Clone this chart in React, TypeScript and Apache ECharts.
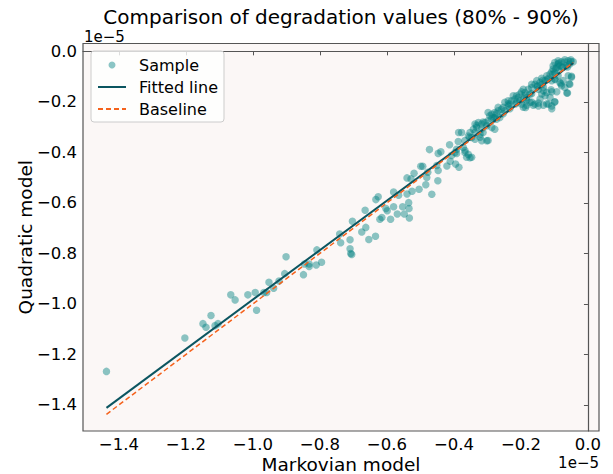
import React, { useEffect, useRef } from "react";
import * as echarts from "echarts";

// Values are in units of 1e-5 (matplotlib offset text "1e−5")
const TITLE = "Comparison of degradation values (80% - 90%)";
const X_NAME = "Markovian model";
const Y_NAME = "Quadratic model";
const OFFSET_TEXT = "1e\u22125";
const X_TICKS = [-1.4, -1.2, -1.0, -0.8, -0.6, -0.4, -0.2, 0.0];
const Y_TICKS = [-1.4, -1.2, -1.0, -0.8, -0.6, -0.4, -0.2, 0.0];
const X_RANGE = [-1.507, 0.033];
const Y_RANGE = [-1.503, 0.031];
const FIT_SLOPE = 0.98;
const FIT_INTERCEPT = -0.003;

const markovian = [
  -1.437, -1.203, -1.149, -1.14, -1.125, -1.113, -1.104, -1.066, -1.053, -1.015,
  -0.993, -0.989, -0.967, -0.959, -0.952, -0.938, -0.922, -0.905, -0.901, -0.849,
  -0.846, -0.832, -0.832, -0.811, -0.809, -0.795, -0.741, -0.738, -0.71, -0.71,
  -0.708, -0.705, -0.703, -0.675, -0.665, -0.663, -0.654, -0.634, -0.633, -0.626,
  -0.621, -0.615, -0.603, -0.599, -0.589, -0.58, -0.58, -0.569, -0.565, -0.553,
  -0.548, -0.54, -0.54, -0.535, -0.534, -0.533, -0.528, -0.525, -0.519, -0.504,
  -0.499, -0.493, -0.484, -0.481, -0.478, -0.473, -0.466, -0.451, -0.448, -0.447,
  -0.439, -0.447, -0.421, -0.413, -0.411, -0.407, -0.395, -0.392, -0.387, -0.386,
  -0.385,
  -0.099, -0.089, -0.079, -0.069, -0.059, -0.051, -0.044, -0.084, -0.093, -0.104,
  -0.108, -0.099, -0.087, -0.074, -0.064, -0.054, -0.059, -0.049, -0.054, -0.061,
  -0.079, -0.084, -0.074, -0.069, -0.089, -0.099, -0.108, -0.118, -0.128, -0.136,
  -0.143, -0.15, -0.158, -0.148, -0.133, -0.123, -0.108, -0.093, -0.113, -0.128,
  -0.138, -0.143, -0.099, -0.108, -0.118, -0.133, -0.148, -0.158, -0.163, -0.173,
  -0.183, -0.186, -0.193, -0.198, -0.203, -0.208, -0.188, -0.178, -0.168, -0.173,
  -0.183, -0.193, -0.203, -0.213, -0.218, -0.228, -0.233, -0.238, -0.248, -0.253,
  -0.258, -0.268, -0.278, -0.287, -0.293, -0.283, -0.273, -0.263, -0.298, -0.307,
  -0.302, -0.287, -0.278, -0.317, -0.327, -0.337, -0.332, -0.342, -0.352, -0.357,
  -0.347, -0.337, -0.322, -0.313, -0.317, -0.302, -0.377, -0.372, -0.367, -0.357,
  -0.352, -0.392, -0.397,
  -0.298, -0.268, -0.238, -0.223, -0.198, -0.168, -0.153, -0.138, -0.123, -0.113,
  -0.104, -0.089, -0.278, -0.248, -0.213,
  -0.087, -0.069, -0.051, -0.077, -0.096, -0.061, -0.049, -0.056, -0.063, -0.081,
  -0.098, -0.105, -0.121, -0.135, -0.151, -0.133, -0.11, -0.099, -0.108, -0.123,
  -0.148, -0.168, -0.193, -0.183, -0.168, -0.188, -0.215, -0.238, -0.233, -0.253,
  -0.273, -0.288, -0.313, -0.332, -0.317, -0.337, -0.322, -0.298, -0.353, -0.367,
  -0.362, -0.347, -0.367,
];

const quadratic = [
  -1.267, -1.135, -1.078, -1.092, -1.046, -1.086, -1.078, -0.964, -0.984, -0.964,
  -0.955, -1.025, -0.955, -0.955, -0.914, -0.938, -0.909, -0.88, -0.813, -0.884,
  -0.842, -0.842, -0.852, -0.846, -0.786, -0.835, -0.723, -0.758, -0.746, -0.782,
  -0.8, -0.804, -0.673, -0.715, -0.629, -0.697, -0.745, -0.732, -0.587, -0.576,
  -0.665, -0.658, -0.622, -0.631, -0.665, -0.557, -0.615, -0.644, -0.57, -0.615,
  -0.644, -0.501, -0.565, -0.599, -0.622, -0.66, -0.505, -0.554, -0.483, -0.546,
  -0.455, -0.455, -0.528, -0.499, -0.479, -0.389, -0.566, -0.452, -0.512, -0.404,
  -0.398, -0.472, -0.454, -0.37, -0.435, -0.412, -0.446, -0.404, -0.357, -0.321,
  -0.459,
  -0.044, -0.037, -0.041, -0.033, -0.037, -0.033, -0.041, -0.057, -0.063, -0.07,
  -0.081, -0.086, -0.077, -0.063, -0.057, -0.05, -0.097, -0.103, -0.13, -0.165,
  -0.136, -0.123, -0.116, -0.143, -0.097, -0.11, -0.116, -0.107, -0.116, -0.13,
  -0.123, -0.136, -0.13, -0.15, -0.156, -0.163, -0.16, -0.16, -0.183, -0.176,
  -0.169, -0.189, -0.2, -0.216, -0.209, -0.213, -0.216, -0.209, -0.213, -0.202,
  -0.213, -0.222, -0.189, -0.209, -0.196, -0.183, -0.163, -0.15, -0.143, -0.169,
  -0.183, -0.15, -0.169, -0.176, -0.189, -0.196, -0.209, -0.216, -0.202, -0.222,
  -0.229, -0.235, -0.242, -0.249, -0.255, -0.262, -0.269, -0.262, -0.275, -0.282,
  -0.295, -0.302, -0.308, -0.288, -0.282, -0.288, -0.302, -0.308, -0.321, -0.335,
  -0.341, -0.348, -0.328, -0.321, -0.354, -0.354, -0.321, -0.381, -0.401, -0.408,
  -0.421, -0.388, -0.401,
  -0.242, -0.222, -0.196, -0.176, -0.16, -0.13, -0.116, -0.107, -0.097, -0.09,
  -0.057, -0.05, -0.262, -0.235, -0.202,
  -0.046, -0.042, -0.04, -0.062, -0.069, -0.062, -0.099, -0.128, -0.165, -0.128,
  -0.112, -0.091, -0.112, -0.115, -0.139, -0.142, -0.152, -0.201, -0.227, -0.208,
  -0.205, -0.201, -0.221, -0.194, -0.168, -0.175, -0.208, -0.208, -0.227, -0.247,
  -0.247, -0.267, -0.28, -0.294, -0.307, -0.32, -0.34, -0.353, -0.34, -0.353,
  -0.419, -0.419, -0.393,
];

const FONT = "DejaVu Sans";
const fmt = (v: number) => {
  const s = Math.abs(v) < 1e-9 ? "0.0" : v.toFixed(1);
  return s.replace("-", "\u2212");
};

export default function App() {
  const ref = useRef<HTMLDivElement>(null);
  useEffect(() => {
    document.body.style.margin = "0";
    if (!ref.current) return;
    const chart = echarts.init(ref.current, undefined, { renderer: "svg" });
    const points = markovian.map((x, i) => [x, quadratic[i]]);
    const xMin = Math.min(...markovian);
    const xMax = Math.max(...markovian);
    const fitted = [
      [xMin, FIT_SLOPE * xMin + FIT_INTERCEPT],
      [xMax, FIT_SLOPE * xMax + FIT_INTERCEPT],
    ];
    const baseline = [
      [xMin, xMin],
      [xMax, xMax],
    ];
    const axisColor = "#555555";
    const hidden = { color: "rgba(0,0,0,0)", borderWidth: 0 };
    chart.setOption({
      animation: false,
      backgroundColor: "#ffffff",
      title: {
        text: TITLE,
        left: 341,
        top: 6,
        padding: 0,
        textAlign: "center",
        textStyle: { fontFamily: FONT, fontSize: 20, fontWeight: "normal", color: "#000", lineHeight: 22 },
      },
      grid: {
        left: 83,
        right: 14,
        top: 43.5,
        bottom: 43,
        outerBoundsMode: "none",
        containLabel: false,
        show: true,
        backgroundColor: "#fbf7f6",
        borderColor: axisColor,
        borderWidth: 1.2,
      },
      legend: {
        left: 91,
        top: 51,
        orient: "vertical",
        itemWidth: 28,
        itemHeight: 7,
        itemGap: 6,
        padding: [6, 6, 5, 6],
        backgroundColor: "rgba(255,255,255,0.8)",
        borderColor: "#cccccc",
        borderWidth: 1,
        borderRadius: 3,
        textStyle: { fontFamily: FONT, fontSize: 16, color: "#000", padding: [0, 0, 0, 8] },
        data: [
          { name: "Sample", icon: "circle" },
          { name: "Fitted line", itemStyle: hidden },
          { name: "Baseline", itemStyle: hidden },
        ],
      },
      xAxis: {
        type: "value",
        min: X_RANGE[0],
        max: X_RANGE[1],
        name: X_NAME,
        nameLocation: "middle",
        nameGap: 23.5,
        nameMoveOverlap: false,
        nameTextStyle: { fontFamily: FONT, fontSize: 18.5, color: "#000", lineHeight: 19 },
        axisLine: { show: true, lineStyle: { color: axisColor, width: 1.2 } },
        axisTick: { show: true, length: 4, customValues: X_TICKS, lineStyle: { color: axisColor, width: 1 } },
        axisLabel: { customValues: X_TICKS, formatter: fmt, fontFamily: FONT, fontSize: 16.5, color: "#000", margin: 5.5, lineHeight: 16 },
        splitLine: { show: false },
      },
      yAxis: {
        type: "value",
        min: Y_RANGE[0],
        max: Y_RANGE[1],
        name: Y_NAME,
        nameLocation: "middle",
        nameRotate: 90,
        nameGap: 48,
        nameMoveOverlap: false,
        nameTextStyle: { fontFamily: FONT, fontSize: 18.5, color: "#000" },
        axisLine: { show: true, lineStyle: { color: axisColor, width: 1.2 } },
        axisTick: { show: true, length: 4, customValues: Y_TICKS, lineStyle: { color: axisColor, width: 1 } },
        axisLabel: { customValues: Y_TICKS, formatter: fmt, fontFamily: FONT, fontSize: 16.5, color: "#000", margin: 6 },
        splitLine: { show: false },
      },
      graphic: [
        {
          type: "text",
          x: 84,
          y: 29.5,
          style: { text: OFFSET_TEXT, fontFamily: FONT, fontSize: 15, fill: "#000", textAlign: "left", textVerticalAlign: "top" },
        },
        {
          type: "text",
          x: 599,
          y: 455,
          style: { text: OFFSET_TEXT, fontFamily: FONT, fontSize: 15, fill: "#000", textAlign: "right", textVerticalAlign: "top" },
        },
      ],
      series: [
        {
          name: "Sample",
          type: "scatter",
          data: points,
          symbol: "circle",
          symbolSize: 7.5,
          itemStyle: { color: "#008080", opacity: 0.45 },
        },
        {
          name: "Fitted line",
          type: "line",
          data: fitted,
          symbol: "none",
          lineStyle: { color: "#0b5560", width: 2 },
          itemStyle: { color: "#0b5560" },
        },
        {
          name: "Baseline",
          type: "line",
          data: baseline,
          symbol: "none",
          lineStyle: { color: "#f5621c", width: 1.5, type: [5, 3] },
          itemStyle: { color: "#f5621c" },
        },
      ],
    });
    return () => chart.dispose();
  }, []);
  return <div ref={ref} style={{ position: "absolute", left: 0, top: 0, width: 613, height: 474 }} />;
}
